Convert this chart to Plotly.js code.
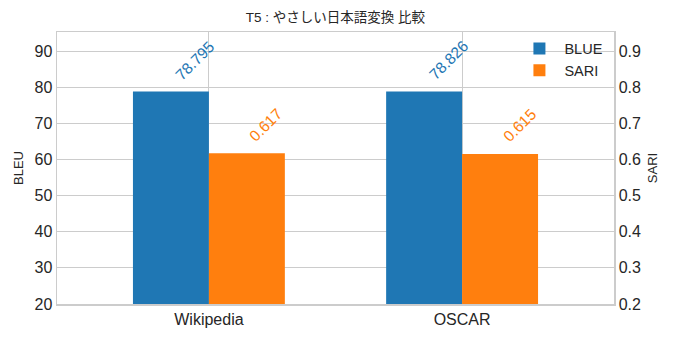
<!DOCTYPE html>
<html>
<head>
<meta charset="utf-8">
<script src="https://cdn.plot.ly/plotly-3.0.1.min.js"></script>
<style>html,body{margin:0;padding:0;background:#fff;}#chart{width:676px;height:337px;}</style>
</head>
<body>
<div id="chart"></div>
<script>
const categories = ["Wikipedia", "OSCAR"];
const bleuValues = [78.795, 78.826];
const sariValues = [0.617, 0.615];
const bleuLabels = ["78.795", "78.826"];
const sariLabels = ["0.617", "0.615"];
const leftTicks = [20, 30, 40, 50, 60, 70, 80, 90];
const rightTicks = [0.2, 0.3, 0.4, 0.5, 0.6, 0.7, 0.8, 0.9];

const FONT = "Liberation Sans, Arial, Noto Sans CJK JP, sans-serif";
const BLUE = "#1f77b4", ORANGE = "#ff7f0e", TXT = "#262626", GRID = "#cccccc";
const idx = categories.map((c, i) => i);

const traces = [
  {type: "bar", name: "BLUE", x: idx, y: bleuValues, offset: -0.3, width: 0.3,
   marker: {color: BLUE}, yaxis: "y", hoverinfo: "none"},
  {type: "bar", name: "SARI", x: idx, y: sariValues, offset: 0, width: 0.3,
   marker: {color: ORANGE}, yaxis: "y2", hoverinfo: "none"}
];

const annotations = [];
idx.forEach(i => {
  annotations.push({x: i - 0.15, y: bleuValues[i], xref: "x", yref: "y", text: bleuLabels[i],
    showarrow: false, textangle: -45, xanchor: "center", yanchor: "middle",
    xshift: 24, yshift: 31, font: {family: FONT, size: 15.5, color: BLUE}});
  annotations.push({x: i + 0.15, y: sariValues[i], xref: "x", yref: "y2", text: sariLabels[i],
    showarrow: false, textangle: -45, xanchor: "center", yanchor: "middle",
    xshift: 19, yshift: 29, font: {family: FONT, size: 15.5, color: ORANGE}});
});

const layout = {
  width: 676, height: 337,
  margin: {l: 57, r: 62, t: 32, b: 33, pad: 0},
  paper_bgcolor: "#fff", plot_bgcolor: "#fff",
  font: {family: FONT, color: TXT},
  title: {text: "T5 : やさしい日本語変換 比較", x: 0.4963, xanchor: "center", y: 0.95, yanchor: "middle",
          font: {family: "Liberation Sans, Noto Sans CJK JP, sans-serif", size: 13.5, color: TXT}},
  barmode: "overlay",
  showlegend: true,
  legend: {x: 0.99, y: 0.998, xanchor: "right", yanchor: "top", bgcolor: "rgba(255,255,255,0)",
           itemwidth: 40, font: {family: FONT, size: 14.5, color: TXT}, traceorder: "normal"},
  xaxis: {range: [-0.6, 1.6], tickmode: "array", tickvals: idx, ticktext: categories,
          showgrid: true, gridcolor: GRID, gridwidth: 1, zeroline: false,
          showline: true, linecolor: GRID, linewidth: 1.5, mirror: true, ticks: "",
          tickfont: {family: FONT, size: 16, color: TXT}},
  yaxis: {range: [20, 95.26], tickmode: "array", tickvals: leftTicks,
          showgrid: true, gridcolor: GRID, gridwidth: 1, zeroline: false,
          showline: true, linecolor: GRID, linewidth: 1.5, ticks: "",
          tickfont: {family: FONT, size: 16, color: TXT},
          title: {text: "BLEU", standoff: 8, font: {family: FONT, size: 13, color: TXT}}},
  yaxis2: {range: [0.2, 0.9526], overlaying: "y", side: "right", tickmode: "array",
           tickvals: rightTicks, ticktext: rightTicks.map(v => v.toFixed(1)),
           showgrid: false, zeroline: false, showline: true, linecolor: GRID, linewidth: 1.5, ticks: "",
           tickfont: {family: FONT, size: 16, color: TXT},
           title: {text: "SARI", standoff: 8, font: {family: FONT, size: 13, color: TXT}}},
  annotations: annotations
};

Plotly.newPlot("chart", traces, layout, {staticPlot: true, displayModeBar: false});
</script>
</body>
</html>
